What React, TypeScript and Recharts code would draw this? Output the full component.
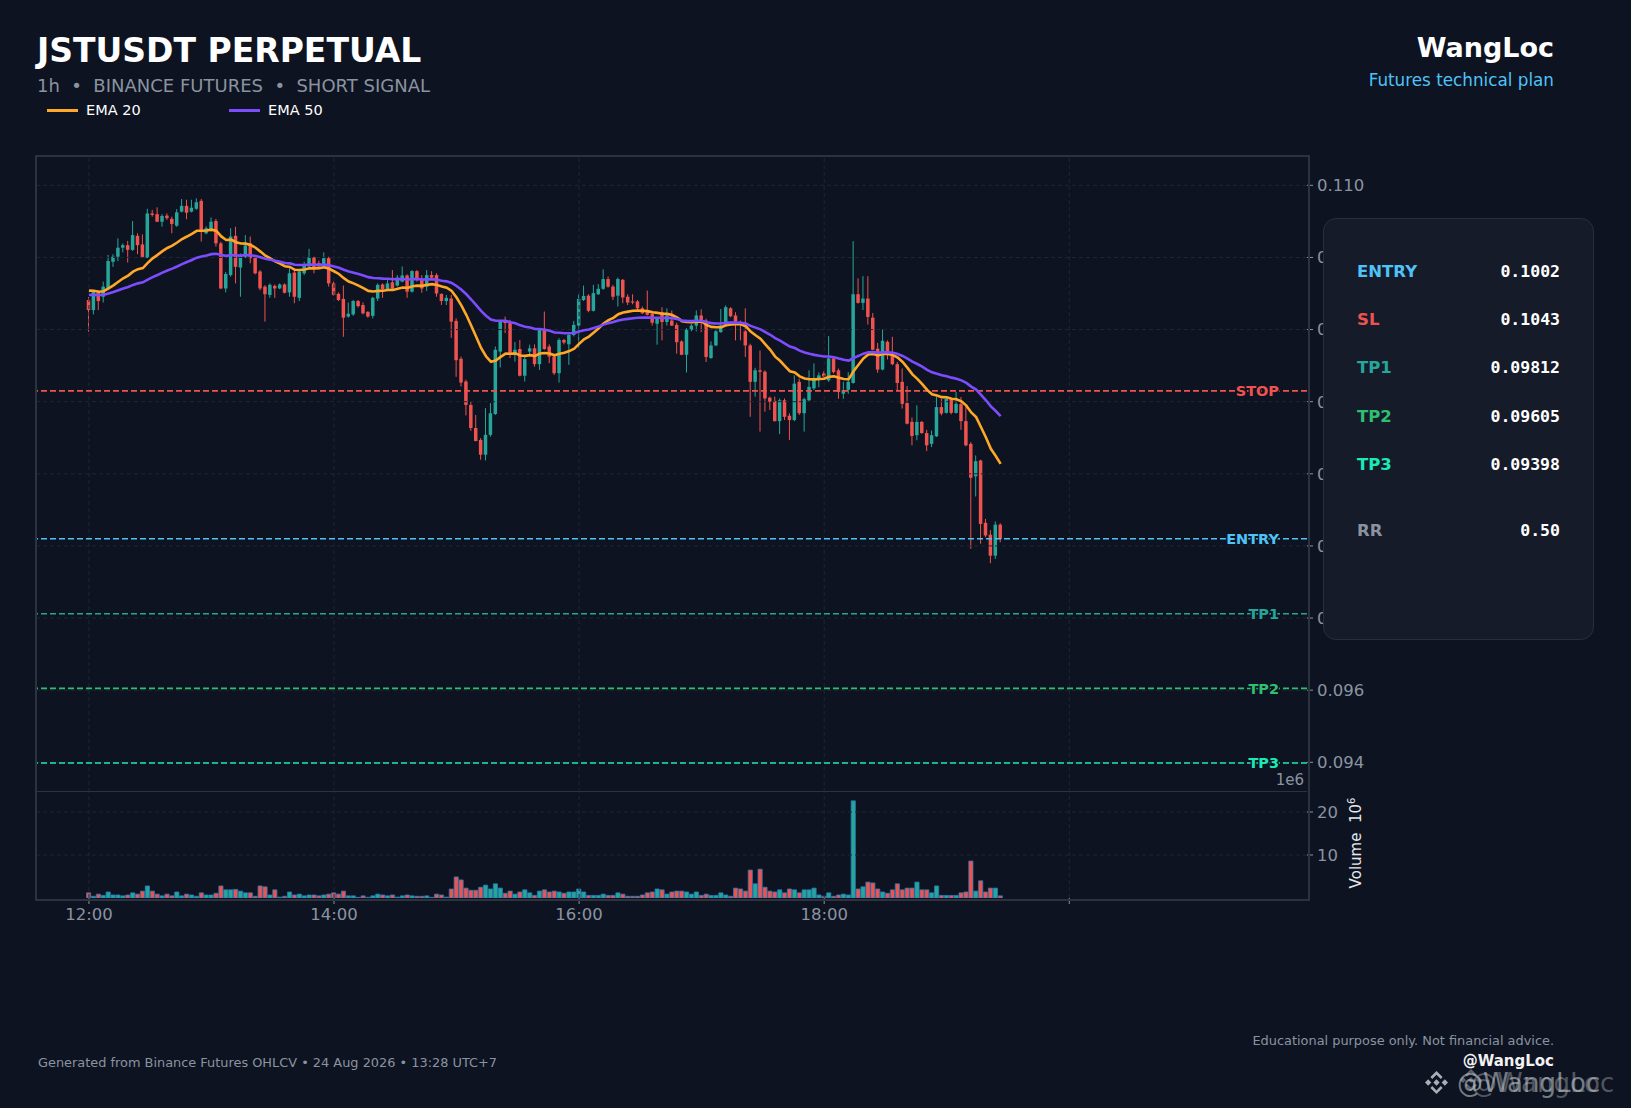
import React from "react";
import { ComposedChart, Bar, Line, XAxis, YAxis, ReferenceLine, Cell } from "recharts";

// candle OHLC, one entry per candle from 12:00 onwards
const opens = [
  0.10682, 0.10654, 0.10703, 0.10691, 0.10714, 0.10788, 0.10802, 0.10827, 0.10834, 0.10821,
  0.1086, 0.10836, 0.10799, 0.10922, 0.1092, 0.10899, 0.10916, 0.10907, 0.10888, 0.10927,
  0.10943, 0.10927, 0.10935, 0.10957, 0.10867, 0.10876, 0.10901, 0.10839, 0.10714, 0.10751,
  0.1086, 0.10772, 0.10802, 0.10839, 0.10799, 0.10761, 0.10719, 0.10696, 0.10721, 0.10714,
  0.10725, 0.10703, 0.10758, 0.10688, 0.10756, 0.10775, 0.108, 0.10784, 0.10775, 0.10798,
  0.10728, 0.10699, 0.10685, 0.10636, 0.10642, 0.10679, 0.10668, 0.10649, 0.10638, 0.10686,
  0.10725, 0.10712, 0.10731, 0.10722, 0.10733, 0.1075, 0.10705, 0.10762, 0.10737, 0.10719,
  0.10751, 0.10751, 0.10699, 0.10679, 0.10686, 0.10624, 0.10519, 0.10456, 0.10391, 0.10327,
  0.10294, 0.10253, 0.10308, 0.10366, 0.10539, 0.10625, 0.10618, 0.1053, 0.10546, 0.10472,
  0.10539, 0.10548, 0.10504, 0.10602, 0.10553, 0.10525, 0.10479, 0.10571, 0.10559, 0.10585,
  0.10611, 0.10682, 0.10694, 0.10652, 0.10698, 0.10713, 0.1074, 0.10719, 0.10694, 0.10738,
  0.10691, 0.10678, 0.10678, 0.10659, 0.1065, 0.10644, 0.10616, 0.10648, 0.10621, 0.10625,
  0.10613, 0.10567, 0.1053, 0.10599, 0.10611, 0.10639, 0.10625, 0.10521, 0.10556, 0.10593,
  0.10611, 0.10659, 0.10639, 0.10619, 0.10595, 0.10556, 0.10455, 0.10487, 0.10483, 0.10411,
  0.10402, 0.10346, 0.10404, 0.10361, 0.10349, 0.10455, 0.10368, 0.10404, 0.10437, 0.1046,
  0.10478, 0.10459, 0.1052, 0.10487, 0.10422, 0.10433, 0.10452, 0.10698, 0.10674, 0.10686,
  0.10633, 0.10547, 0.10489, 0.10566, 0.10535, 0.10504, 0.10455, 0.10396, 0.10344, 0.10307,
  0.10344, 0.10313, 0.10283, 0.10304, 0.10385, 0.10369, 0.10406, 0.10369, 0.10393, 0.10346,
  0.10283, 0.10193, 0.10237, 0.10064, 0.10031, 0.09973, 0.10059,
];
const highs = [
  0.1069, 0.10709, 0.10709, 0.10733, 0.10807, 0.10809, 0.10853, 0.10839, 0.10846, 0.10901,
  0.10867, 0.10864, 0.10935, 0.10932, 0.10939, 0.1092, 0.10922, 0.10913, 0.10934, 0.10962,
  0.1096, 0.1096, 0.10964, 0.10962, 0.10886, 0.10911, 0.10907, 0.10844, 0.1076, 0.10881,
  0.10885, 0.10811, 0.10862, 0.10858, 0.10807, 0.10765, 0.10723, 0.10728, 0.10725, 0.10728,
  0.10728, 0.1077, 0.10765, 0.10765, 0.10788, 0.10824, 0.10802, 0.10791, 0.10814, 0.10802,
  0.10733, 0.10703, 0.10722, 0.10675, 0.10682, 0.10682, 0.10675, 0.10651, 0.10691, 0.10728,
  0.10728, 0.10737, 0.10765, 0.10751, 0.10775, 0.10753, 0.10765, 0.10765, 0.10751, 0.10765,
  0.10762, 0.10756, 0.107, 0.10696, 0.10696, 0.10631, 0.10525, 0.10461, 0.104, 0.10363,
  0.10299, 0.10382, 0.10396, 0.10553, 0.10627, 0.10636, 0.10627, 0.10565, 0.10571, 0.10525,
  0.10558, 0.10559, 0.10602, 0.1065, 0.10559, 0.1053, 0.10576, 0.10574, 0.1059, 0.10624,
  0.10698, 0.10722, 0.10698, 0.10724, 0.10726, 0.10767, 0.10747, 0.10724, 0.10744, 0.1074,
  0.10698, 0.10698, 0.10682, 0.10664, 0.10708, 0.10648, 0.10634, 0.10662, 0.10659, 0.10653,
  0.10619, 0.1057, 0.10604, 0.10616, 0.10653, 0.10656, 0.1063, 0.10567, 0.106, 0.10657,
  0.10667, 0.10662, 0.10648, 0.10625, 0.10659, 0.10561, 0.10494, 0.10542, 0.10487, 0.10414,
  0.10414, 0.10409, 0.10409, 0.10368, 0.10473, 0.10464, 0.10411, 0.10487, 0.10506, 0.10481,
  0.10485, 0.10582, 0.10524, 0.10492, 0.10455, 0.10482, 0.10845, 0.10742, 0.10748, 0.10748,
  0.10646, 0.10563, 0.106, 0.1057, 0.1058, 0.1051, 0.10492, 0.10443, 0.10356, 0.1039,
  0.10346, 0.10322, 0.1032, 0.10413, 0.10408, 0.10415, 0.10408, 0.10427, 0.10413, 0.10387,
  0.10288, 0.10251, 0.10239, 0.10075, 0.10044, 0.10068, 0.10063,
];
const lows = [
  0.10594, 0.10642, 0.10654, 0.10675, 0.10709, 0.10774, 0.1079, 0.10814, 0.10786, 0.10818,
  0.10809, 0.10798, 0.10798, 0.10913, 0.10898, 0.10885, 0.10904, 0.10867, 0.10885, 0.10925,
  0.10906, 0.10925, 0.10932, 0.10844, 0.10864, 0.10872, 0.1083, 0.10712, 0.10703, 0.10747,
  0.10728, 0.10691, 0.10798, 0.10784, 0.10753, 0.10709, 0.10622, 0.10688, 0.10688, 0.10712,
  0.107, 0.10691, 0.10673, 0.10679, 0.10751, 0.1077, 0.10756, 0.1077, 0.1077, 0.10719,
  0.10694, 0.10679, 0.1058, 0.10633, 0.10638, 0.10661, 0.10642, 0.10633, 0.10631, 0.10679,
  0.10688, 0.1071, 0.10712, 0.10719, 0.10731, 0.10688, 0.10703, 0.10733, 0.10702, 0.10707,
  0.10742, 0.10691, 0.10668, 0.10668, 0.10577, 0.10469, 0.10442, 0.10362, 0.10319, 0.1029,
  0.10239, 0.10237, 0.10303, 0.10363, 0.10495, 0.1059, 0.10521, 0.10511, 0.1047, 0.10456,
  0.1053, 0.10497, 0.10488, 0.10544, 0.10507, 0.10474, 0.10453, 0.10559, 0.10502, 0.10581,
  0.1055, 0.10679, 0.10648, 0.1065, 0.10696, 0.1071, 0.10716, 0.10682, 0.10664, 0.10673,
  0.10668, 0.1067, 0.1065, 0.10643, 0.10639, 0.10611, 0.10558, 0.1057, 0.10611, 0.1061,
  0.10533, 0.10529, 0.10481, 0.10595, 0.10595, 0.10593, 0.1051, 0.10519, 0.10554, 0.10591,
  0.1061, 0.10634, 0.1057, 0.1057, 0.10524, 0.10358, 0.10414, 0.10317, 0.10372, 0.10377,
  0.10345, 0.1031, 0.10349, 0.10294, 0.10346, 0.10363, 0.10317, 0.104, 0.10432, 0.1044,
  0.10462, 0.10455, 0.10478, 0.10408, 0.10408, 0.10422, 0.1045, 0.10672, 0.10654, 0.10614,
  0.10543, 0.1048, 0.10487, 0.10517, 0.10501, 0.10431, 0.10381, 0.10337, 0.10279, 0.10293,
  0.10311, 0.10263, 0.10274, 0.10302, 0.10362, 0.10367, 0.10365, 0.10367, 0.10322, 0.10276,
  0.09992, 0.10137, 0.10006, 0.10024, 0.09952, 0.09964, 0.1001,
];
const closes = [
  0.10654, 0.10705, 0.10679, 0.10719, 0.1079, 0.10802, 0.10827, 0.10834, 0.10821, 0.10862,
  0.10834, 0.10799, 0.10922, 0.10918, 0.10899, 0.10915, 0.10909, 0.10893, 0.10925, 0.10943,
  0.10924, 0.10938, 0.10953, 0.10876, 0.10881, 0.10899, 0.10839, 0.10714, 0.10754, 0.10858,
  0.10774, 0.10807, 0.10833, 0.10798, 0.10756, 0.10714, 0.10698, 0.10724, 0.10714, 0.10725,
  0.10702, 0.10756, 0.10691, 0.10761, 0.10779, 0.108, 0.1077, 0.10775, 0.10798, 0.10728,
  0.10696, 0.10682, 0.10633, 0.10644, 0.10679, 0.10665, 0.10645, 0.10636, 0.10688, 0.10724,
  0.10712, 0.10728, 0.10714, 0.10744, 0.1075, 0.10705, 0.10762, 0.1074, 0.10714, 0.10751,
  0.10744, 0.107, 0.10679, 0.10688, 0.10622, 0.10515, 0.10453, 0.10391, 0.10327, 0.10291,
  0.10253, 0.10308, 0.10368, 0.10544, 0.10622, 0.10618, 0.1053, 0.10544, 0.10472, 0.10518,
  0.10548, 0.10504, 0.10599, 0.10546, 0.10525, 0.10479, 0.10571, 0.10564, 0.10585, 0.10613,
  0.10685, 0.10693, 0.10652, 0.10701, 0.10713, 0.1074, 0.10719, 0.10691, 0.1074, 0.10689,
  0.10675, 0.10675, 0.10659, 0.10645, 0.10641, 0.10619, 0.1063, 0.10621, 0.10639, 0.10611,
  0.10565, 0.1053, 0.106, 0.10611, 0.10639, 0.10625, 0.10524, 0.10556, 0.10595, 0.10611,
  0.10662, 0.10637, 0.10622, 0.10613, 0.10556, 0.10455, 0.10487, 0.10483, 0.10409, 0.104,
  0.10346, 0.10404, 0.10358, 0.10349, 0.1045, 0.10368, 0.10407, 0.10441, 0.1046, 0.10473,
  0.1047, 0.1052, 0.10482, 0.10427, 0.10432, 0.10455, 0.10698, 0.10674, 0.10686, 0.10635,
  0.10544, 0.10489, 0.10569, 0.10535, 0.10504, 0.10452, 0.10394, 0.10339, 0.10305, 0.10344,
  0.10313, 0.10279, 0.10307, 0.10385, 0.10367, 0.10408, 0.10369, 0.10394, 0.10346, 0.10279,
  0.10189, 0.10235, 0.10061, 0.10029, 0.09973, 0.10059, 0.10019,
];
// volume in millions
const volumes = [
  1.2, 0.4, 0.9, 0.6, 1.4, 0.7, 0.7, 0.5, 0.7, 1.2,
  0.9, 1.6, 2.8, 1.6, 0.9, 0.5, 0.9, 0.5, 1.4, 0.5,
  0.9, 0.7, 0.4, 1.2, 0.7, 0.7, 1.1, 2.8, 1.9, 1.9,
  2.0, 1.6, 1.2, 1.2, 0.4, 2.8, 2.6, 0.7, 1.9, 0.2,
  0.4, 1.4, 0.7, 0.9, 0.5, 0.7, 0.7, 0.5, 0.7, 0.9,
  1.2, 0.9, 1.6, 0.5, 0.5, 0.15, 0.5, 0.15, 0.5, 0.9,
  0.7, 0.5, 0.7, 0.2, 0.5, 0.7, 0.5, 0.4, 0.4, 0.5,
  0.15, 0.9, 0.7, 0.2, 2.1, 4.9, 4.2, 2.3, 1.8, 1.8,
  2.5, 3.0, 2.1, 3.3, 2.3, 1.1, 1.6, 0.9, 1.4, 1.9,
  1.2, 0.6, 1.6, 1.9, 1.4, 1.6, 1.4, 1.1, 1.4, 1.4,
  2.1, 1.4, 0.6, 0.6, 0.6, 0.9, 0.6, 0.6, 1.2, 0.9,
  0.4, 0.4, 0.4, 0.7, 1.2, 1.4, 2.1, 1.9, 0.9, 1.4,
  1.6, 1.6, 1.4, 0.9, 1.4, 0.6, 0.9, 0.6, 0.6, 1.2,
  0.7, 0.4, 2.3, 2.1, 1.6, 6.5, 3.3, 6.7, 2.5, 1.6,
  1.4, 1.9, 1.2, 2.1, 1.9, 1.2, 1.9, 1.9, 2.3, 0.7,
  0.4, 1.2, 0.4, 0.7, 0.9, 0.7, 22.6, 2.1, 2.6, 3.7,
  3.5, 2.1, 1.4, 1.1, 1.9, 3.3, 1.9, 2.3, 2.3, 3.7,
  1.9, 1.9, 1.2, 2.8, 0.6, 0.6, 0.6, 0.6, 1.2, 1.4,
  8.6, 1.6, 4.0, 1.4, 2.3, 2.3, 0.5,
];

// EMA values carried in from earlier history at the first visible candle
const ema20Start = 0.10708;
const ema50Start = 0.10696;

const timeTicks = [0, 50, 100, 150, 200];
const timeLabels = ["12:00", "14:00", "16:00", "18:00", ""];
const priceTicks = [0.094, 0.096, 0.098, 0.1, 0.102, 0.104, 0.106, 0.108, 0.11];
const volumeTicks = [10, 20];

const levelNames = ["STOP", "ENTRY", "TP1", "TP2", "TP3"];
const levelPrices = [0.1043, 0.1002, 0.09812, 0.09605, 0.09398];

const planLabels = ["ENTRY", "SL", "TP1", "TP2", "TP3", "RR"];
const planValues = ["0.1002", "0.1043", "0.09812", "0.09605", "0.09398", "0.50"];

const BG = "#0d1320";
const GREEN = "#26a69a";
const RED = "#ef5350";
const GRID = "#1f2634";
const TICK = "#8b93a1";
const FRAME = "#2b3240";
const levelColors = ["#ef5350", "#4fc3f7", "#26a69a", "#2fbf71", "#1de9b6"];
const planColors = ["#4fc3f7", "#ef5350", "#26a69a", "#2fbf71", "#1de9b6", "#8b93a1"];

function ema(values: number[], period: number, start: number) {
  const k = 2 / (period + 1);
  const out: number[] = [];
  let e = start;
  values.forEach((v, i) => {
    e = i === 0 ? start : v * k + e * (1 - k);
    out.push(e);
  });
  return out;
}

const ema20 = ema(closes, 20, ema20Start);
const ema50 = ema(closes, 50, ema50Start);

const rows = closes.map((c, i) => ({
  i,
  open: opens[i],
  high: highs[i],
  low: lows[i],
  close: c,
  range: [lows[i], highs[i]],
  ema20: ema20[i],
  ema50: ema50[i],
  vol: volumes[i],
}));

const X_DOMAIN = [-10.8, 248.5];
const W = 1631;
const Y_AXIS_W = 80;
const RIGHT = W - 1307 - Y_AXIS_W;

function Candle(props: any) {
  const { x, y, width, height, payload } = props;
  if (x == null || y == null || !payload) return null;
  const cx = x + width / 2;
  const top = Math.min(y, y + height);
  const bot = Math.max(y, y + height);
  const span = payload.high - payload.low || 1e-9;
  const py = (v: number) => top + ((payload.high - v) / span) * (bot - top);
  const up = payload.close >= payload.open;
  const color = up ? GREEN : RED;
  const bTop = py(Math.max(payload.open, payload.close));
  const bBot = py(Math.min(payload.open, payload.close));
  return (
    <g>
      <line x1={cx} x2={cx} y1={top} y2={bot} stroke={color} strokeWidth={1} />
      <rect x={cx - 1.75} width={3.5} y={bTop} height={Math.max(bBot - bTop, 0.9)} fill={color} />
    </g>
  );
}

function LevelLabel(props: any) {
  const { viewBox, text, color } = props;
  if (!viewBox) return null;
  return (
    <text
      x={viewBox.x + viewBox.width - 28}
      y={viewBox.y}
      dy="0.36em"
      textAnchor="end"
      fontSize={14.5}
      fontWeight="bold"
      fill={color}
      stroke={BG}
      strokeWidth={3}
      paintOrder="stroke"
    >
      {text}
    </text>
  );
}

function Txt({ x, y, size, color, weight, anchor, family, shadow, children }: any) {
  const style: any = {
    position: "absolute",
    top: y - 0.846 * size,
    fontSize: size,
    lineHeight: "1",
    color,
    fontWeight: weight || "normal",
    whiteSpace: "pre",
    fontFamily: family || "DejaVu Sans",
  };
  if (shadow) style.textShadow = shadow;
  if (anchor === "end") style.right = W - x;
  else style.left = x;
  return <div style={style}>{children}</div>;
}

function BinanceMark({ x, y, s, color }: any) {
  return (
    <svg style={{ position: "absolute", left: x, top: y }} width={s} height={s} viewBox="0 0 24 24">
      <g fill={color}>
        <path d="M12 9.2 L14.8 12 L12 14.8 L9.2 12 Z" />
        <path d="M4.6 9.2 L7.4 12 L4.6 14.8 L1.8 12 Z" />
        <path d="M19.4 9.2 L22.2 12 L19.4 14.8 L16.6 12 Z" />
        <path d="M12 1.8 L17.4 7.2 L15.8 8.8 L12 5 L8.2 8.8 L6.6 7.2 Z" />
        <path d="M12 22.2 L6.6 16.8 L8.2 15.2 L12 19 L15.8 15.2 L17.4 16.8 Z" />
      </g>
    </svg>
  );
}

export default function App() {
  const planTops = [277.5, 326, 374, 423, 471, 536.5];
  return (
    <div
      style={{
        position: "absolute",
        left: 0,
        top: 0,
        width: W,
        height: 1108,
        background: BG,
        overflow: "hidden",
        fontFamily: "DejaVu Sans",
      }}
    >
      <div style={{ position: "absolute", left: 0, top: 140 }}>
        <ComposedChart
          width={W}
          height={652}
          data={rows}
          margin={{ top: 16, right: RIGHT, bottom: 0, left: 36 }}
          style={{ fontFamily: "DejaVu Sans" }}
        >
          <XAxis dataKey="i" type="number" domain={X_DOMAIN} allowDataOverflow hide ticks={timeTicks} />
          <YAxis
            orientation="right"
            width={Y_AXIS_W}
            domain={[0.093176, 0.110813]}
            allowDataOverflow
            ticks={priceTicks}
            interval={0}
            tickFormatter={(v: number) => v.toFixed(3)}
            tick={{ fill: TICK, fontSize: 16.5 }}
            tickLine={{ stroke: TICK }}
            tickSize={6}
            tickMargin={4}
            axisLine={false}
          />
          {timeTicks.map((t) => (
            <ReferenceLine key={"vx" + t} x={t} stroke={GRID} strokeDasharray="4 3" />
          ))}
          {priceTicks.map((t) => (
            <ReferenceLine key={"hy" + t} y={t} stroke={GRID} strokeDasharray="4 3" />
          ))}
          {levelNames.map((n, k) => (
            <ReferenceLine
              key={n}
              y={levelPrices[k]}
              stroke={levelColors[k]}
              strokeWidth={1.6}
              strokeDasharray="6 3"
              label={<LevelLabel text={n} color={levelColors[k]} />}
            />
          ))}
          <Bar dataKey="range" barSize={4} shape={<Candle />} isAnimationActive={false} />
          <Line dataKey="ema20" stroke="#ffa726" strokeWidth={2.6} dot={false} activeDot={false} isAnimationActive={false} />
          <Line dataKey="ema50" stroke="#7c4dff" strokeWidth={2.6} dot={false} activeDot={false} isAnimationActive={false} />
        </ComposedChart>
      </div>

      <div style={{ position: "absolute", left: 0, top: 780 }}>
        <ComposedChart
          width={W}
          height={158}
          data={rows}
          margin={{ top: 12, right: RIGHT, bottom: 0, left: 36 }}
          style={{ fontFamily: "DejaVu Sans" }}
        >
          <XAxis
            dataKey="i"
            type="number"
            domain={X_DOMAIN}
            allowDataOverflow
            ticks={timeTicks}
            interval={0}
            height={40}
            tickFormatter={(v: number) => timeLabels[timeTicks.indexOf(v)]}
            tick={{ fill: TICK, fontSize: 16.5 }}
            tickLine={{ stroke: TICK }}
            tickSize={6}
            tickMargin={4}
            axisLine={false}
          />
          <YAxis
            orientation="right"
            width={Y_AXIS_W}
            domain={[0, 24.65]}
            allowDataOverflow
            ticks={volumeTicks}
            interval={0}
            tick={{ fill: TICK, fontSize: 16.5 }}
            tickLine={{ stroke: TICK }}
            tickSize={6}
            tickMargin={4}
            axisLine={false}
          />
          {timeTicks.map((t) => (
            <ReferenceLine key={"vvx" + t} x={t} stroke={GRID} strokeDasharray="4 3" />
          ))}
          {volumeTicks.map((t) => (
            <ReferenceLine key={"vhy" + t} y={t} stroke={GRID} strokeDasharray="4 3" />
          ))}
          <Bar dataKey="vol" barSize={4.2} stroke="#2a7ab8" strokeWidth={0.8} isAnimationActive={false}>
            {rows.map((r) => (
              <Cell key={r.i} fill={r.close >= r.open ? GREEN : RED} />
            ))}
          </Bar>
        </ComposedChart>
      </div>

      {/* pane frames */}
      <div style={{ position: "absolute", left: 35, top: 155, width: 1271, height: 742, border: `2px solid ${FRAME}`, boxSizing: "content-box", pointerEvents: "none" }} />
      <div style={{ position: "absolute", left: 36, top: 791, width: 1271, height: 1, background: FRAME }} />

      <Txt x={1304} y={786} size={15} color={TICK} anchor="end">1e6</Txt>
      <div
        style={{
          position: "absolute",
          left: 1355,
          top: 843,
          transform: "translate(-50%, -50%) rotate(-90deg)",
          whiteSpace: "pre",
          color: "#e6e8eb",
          fontSize: 15,
          lineHeight: "1",
        }}
      >
        {"Volume  10"}
        <span style={{ fontSize: 10, verticalAlign: "super" }}>6</span>
      </div>

      {/* header */}
      <Txt x={37} y={62} size={33} color="#ffffff" weight="bold">JSTUSDT PERPETUAL</Txt>
      <Txt x={37} y={92.5} size={18} color="#8b93a1">{"1h  \u2022  BINANCE FUTURES  \u2022  SHORT SIGNAL"}</Txt>
      <div style={{ position: "absolute", left: 47, top: 108.5, width: 31, height: 3, background: "#ffa726" }} />
      <Txt x={86} y={115} size={14.5} color="#ffffff">EMA 20</Txt>
      <div style={{ position: "absolute", left: 229, top: 108.5, width: 31, height: 3, background: "#7c4dff" }} />
      <Txt x={268} y={115} size={14.5} color="#ffffff">EMA 50</Txt>

      <Txt x={1554} y={57} size={27} color="#ffffff" weight="bold" anchor="end">WangLoc</Txt>
      <Txt x={1554} y={86.5} size={16.8} color="#4fc3f7" anchor="end">Futures technical plan</Txt>

      {/* plan panel */}
      <div
        style={{
          position: "absolute",
          left: 1323,
          top: 218,
          width: 271,
          height: 422,
          boxSizing: "border-box",
          background: "#151b29",
          border: "1.5px solid #272e3d",
          borderRadius: 13,
        }}
      />
      {planLabels.map((l, k) => (
        <React.Fragment key={l}>
          <Txt x={1357} y={planTops[k]} size={16.5} color={planColors[k]} weight="bold">{l}</Txt>
          <Txt x={1560} y={planTops[k]} size={16.5} color="#ffffff" weight="bold" anchor="end" family="DejaVu Sans Mono">
            {planValues[k]}
          </Txt>
        </React.Fragment>
      ))}

      {/* footer */}
      <Txt x={38} y={1068} size={12.9} color="#8b93a1">
        {"Generated from Binance Futures OHLCV \u2022 24 Aug 2026 \u2022 13:28 UTC+7"}
      </Txt>
      <Txt x={1554} y={1046} size={12.9} color="#8b93a1" anchor="end">Educational purpose only. Not financial advice.</Txt>
      <Txt x={1554} y={1067} size={15} color="#f2f2f2" weight="bold" anchor="end">@WangLoc</Txt>
      <BinanceMark x={1423} y={1069} s={27} color="rgba(210,214,220,0.8)" />
      <BinanceMark x={1458} y={1067} s={26} color="rgba(210,214,220,0.4)" />
      <Txt
        x={1457}
        y={1092}
        size={26}
        color="rgba(210,214,220,0.55)"
        shadow="14px 0 0 rgba(210,214,220,0.35)"
      >
        @WangLoc
      </Txt>
    </div>
  );
}
